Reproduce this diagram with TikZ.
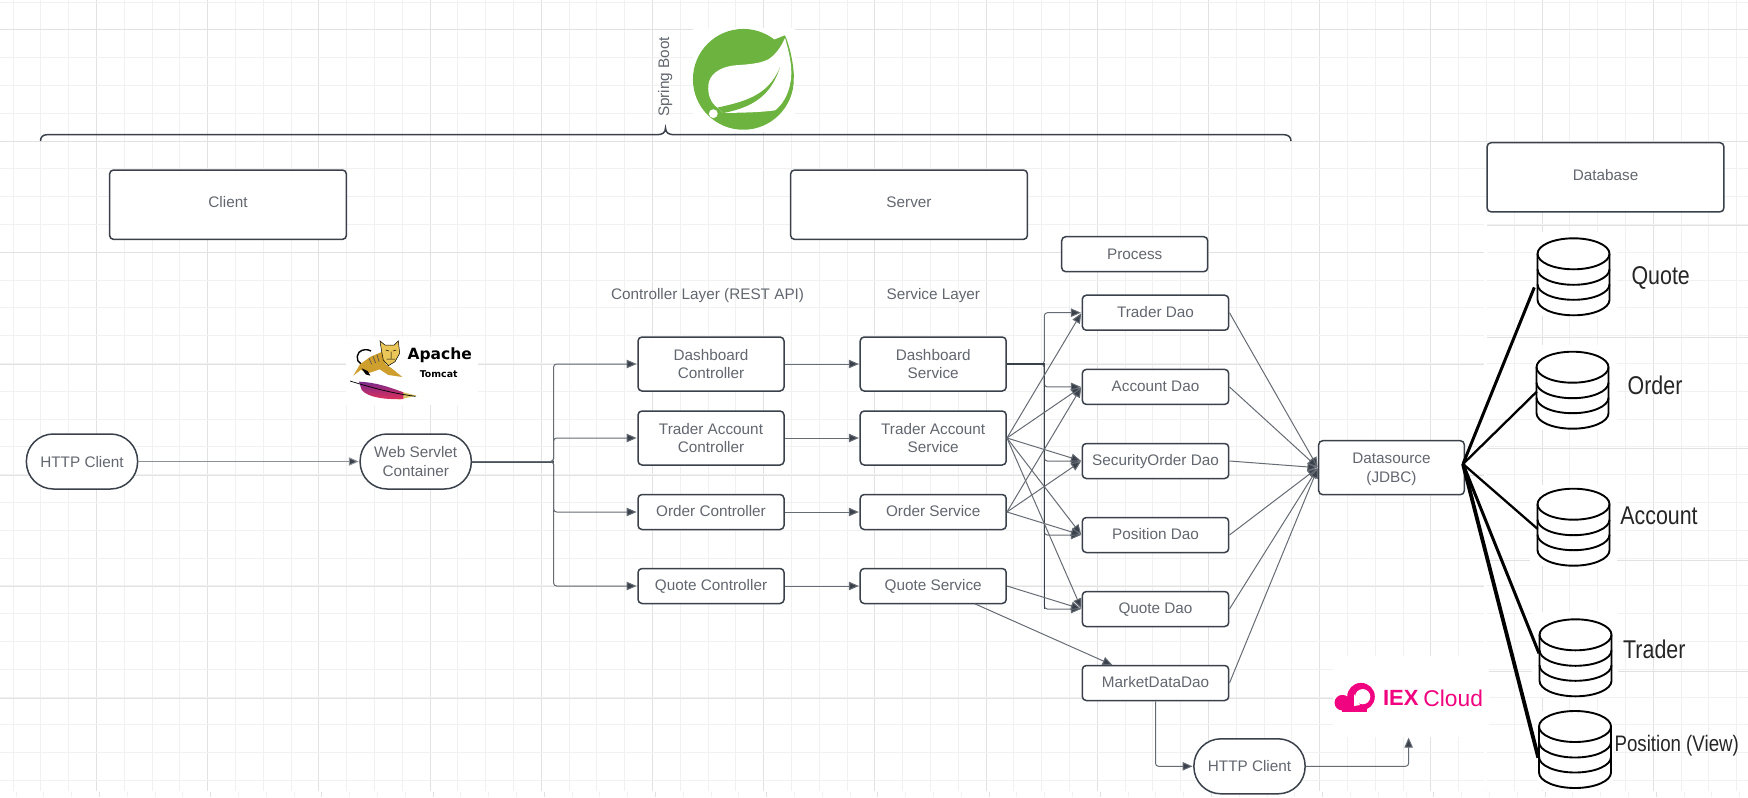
\documentclass[tikz,border=0pt]{standalone}
\usepackage{fontspec}
\usepackage{graphicx}
\setmainfont{Liberation Sans}
\newfontfamily\logofont{DejaVu Sans}
\usetikzlibrary{arrows.meta,calc}
\definecolor{ink}{HTML}{3A414A}
\definecolor{wire}{HTML}{666C74}
\definecolor{txt}{HTML}{62676F}
\definecolor{gridminor}{HTML}{F1F1F1}
\definecolor{gridmajor}{HTML}{E2E2E2}
\definecolor{springgreen}{HTML}{6DB33F}
\definecolor{iexpink}{HTML}{F0047F}
\definecolor{catgold}{HTML}{CF9F2D}
\definecolor{catface}{HTML}{EBC75A}
\definecolor{featherp}{HTML}{7A2A8C}
\definecolor{featherm}{HTML}{D0186E}
\definecolor{featherr}{HTML}{E0305A}
\definecolor{feathery}{HTML}{D9C565}
\tikzset{
  base/.style={draw=ink,line width=.75pt,fill=white,align=center,text=txt,inner sep=0pt,text depth=0pt,
    font=\fontsize{7.65}{9.25}\selectfont},
  boxn/.style 2 args={base,rounded corners=2pt,minimum width=#1pt,minimum height=#2pt},
  small/.style={boxn={73}{17.5},text height=4.8pt},
  tall/.style={boxn={73}{27}},
  dao/.style={boxn={73.2}{17.5},text height=4.8pt},
  head/.style={boxn={118.4}{34.7},text height=3pt},
  pill/.style={base,rounded corners=13.5pt,minimum width=55.6pt,minimum height=27.5pt},
  lab/.style={text=txt,inner sep=0pt,text height=5.5pt,text depth=0pt,font=\fontsize{7.65}{9.25}\selectfont},
  dblab/.style={text=black!85,inner sep=0pt,text height=.86*#1pt,text depth=0pt,font=\fontsize{#1}{#1}\selectfont},
  dbbox/.style={minimum width=36pt,minimum height=38.5pt,inner sep=0pt},
  wireline/.style={draw=wire,line width=.5pt,-{Triangle[length=5pt,width=4.2pt,fill=ink]},shorten >=.3pt},
  elbow/.style={wireline,rounded corners=1.5pt},
  busline/.style={draw=ink,line width=1pt},
  dblink/.style={draw=black,line width=#1},
  cyl/.style={draw=black,line width=.95pt,fill=white},
}
\newcommand{\dbcyl}[3]{%
  \node[dbbox] (#1) at (#2,#3+38.5) {};
  \begin{scope}[shift={(#2,#3)}]
    \path[cyl] (-36,15.5) -- (-36,61.5) arc[start angle=180,end angle=360,x radius=18pt,y radius=7.75pt] -- (36,15.5)
      arc[start angle=0,end angle=180,x radius=18pt,y radius=7.75pt] -- cycle;
    \draw[cyl,fill=none] (-36,15.5) arc[start angle=180,end angle=360,x radius=18pt,y radius=7.75pt];
    \draw[cyl,fill=none] (-36,31) arc[start angle=180,end angle=360,x radius=18pt,y radius=7.75pt];
    \draw[cyl,fill=none] (-36,46) arc[start angle=180,end angle=360,x radius=18pt,y radius=7.75pt];
  \end{scope}}
\begin{document}
\begin{tikzpicture}[x=.5pt,y=-.5pt]
\useasboundingbox (0,0) rectangle (1748,797);
\fill[white] (0,0) rectangle (1748,797);
% grid
\foreach \k in {0,...,62}{
  \pgfmathsetmacro{\gx}{floor(13.1+27.8*\k)+.5}
  \draw[gridminor,line width=.55pt] (\gx,0) -- (\gx,790.7);
  \draw[gridminor,line width=.55pt] (\gx+3,792) -- (\gx+3,797);
}
\foreach \k in {0,...,15}{
  \pgfmathsetmacro{\gx}{floor(96.5+111.2*\k)+.5}
  \draw[gridmajor,line width=.55pt] (\gx,0) -- (\gx,790.7);
  \draw[gridmajor,line width=.55pt] (\gx+3,792) -- (\gx+3,797);
}
\foreach \k in {0,...,28}{
  \pgfmathsetmacro{\gy}{floor(2+27.8*\k)+.5}
  \draw[gridminor,line width=.55pt] (0,\gy) -- (1748,\gy);
}
\foreach \gy in {29.5,141.5}{\draw[gridmajor,line width=.55pt] (0,\gy) -- (1748,\gy);}
\foreach \gy in {252.5,364.5,475.5,586.5,698.5}{\draw[gridmajor,line width=.55pt] (0,\gy) -- (1484,\gy);}
\foreach \gy in {225.5,337.5,448.5,560.5,671.5}{\draw[gridmajor,line width=.55pt] (1487,\gy) -- (1748,\gy);}
% white patches of the pasted pictures
\fill[white] (1484,215) rectangle (1487,790);
\fill[white] (1533,232) rectangle (1617,316);
\fill[white] (1533,345) rectangle (1617,430);
\fill[white] (1530,485) rectangle (1617,566);
\fill[white] (1532,612) rectangle (1618,697);
\fill[white] (1537,711) rectangle (1613,790);
\fill[white] (693,28) rectangle (795,132);
\fill[white] (346,337) rectangle (478,405);
\fill[white] (1332.5,656) rectangle (1488.6,736.7);
% Spring logo
\begin{scope}[shift={(685,22)},x=.16667pt,y=-.16667pt]
  \fill[springgreen] (175,172) circle[radius=25.2pt];
  \fill[springgreen] (300,40) -- (250,60) -- (300,130) -- (327,170) .. controls (325,120) and (315,75) .. (300,40) -- cycle;
  \fill[white] (300,48) .. controls (312,90) and (322,130) .. (318,170) .. controls (312,220) and (290,250) .. (270,265)
     .. controls (220,272) and (160,272) .. (115,273) -- (97,257)
     .. controls (75,240) and (68,215) .. (70,190) .. controls (72,160) and (100,135) .. (150,130)
     .. controls (190,127) and (225,125) .. (250,112) .. controls (272,98) and (288,75) .. (300,48) -- cycle;
  \fill[springgreen] (97,257) .. controls (170,240) and (250,225) .. (285,135)
     .. controls (260,215) and (210,255) .. (115,273) -- cycle;
  \fill[white] (85,275) circle[radius=2.2pt];
\end{scope}
% Tomcat logo
\begin{scope}[shift={(345,335)},x=.16667pt,y=-.16667pt]
  \draw[black,line width=.7pt] (62,85) .. controls (38,95) and (30,65) .. (42,52) .. controls (52,42) and (68,42) .. (78,48);
  \fill[catgold] (25,122) -- (45,88) -- (75,66) -- (112,50) -- (122,88) -- (140,100) -- (172,126) -- (130,120) -- (104,103) -- (66,116) -- (48,104) -- cycle;
  \fill[black] (50,100) -- (68,108) -- (76,122) -- (62,118) -- cycle;
  \draw[black!70,line width=.3pt] (72,70) -- (80,88) (84,64) -- (92,84) (96,58) -- (102,80);
  \fill[catface] (105,18) -- (120,30) -- (148,30) -- (160,18) -- (164,55) -- (150,80) -- (130,92) -- (115,75) -- (110,50) -- cycle;
  \draw[black,line width=.25pt] (105,18) -- (120,30) -- (148,30) -- (160,18) -- (164,55) -- (150,80) -- (130,92) -- (115,75) -- (110,50) -- cycle;
  \draw[black,line width=.25pt] (122,45) -- (132,48) (144,48) -- (154,45) (138,50) -- (138,70) (125,72) -- (150,72);
  \fill[feathery] (160,168) -- (215,182) -- (160,194) -- cycle;
  \shade[top color=featherp,middle color=featherm,bottom color=featherr]
    (42,140) .. controls (90,142) and (130,155) .. (175,172) -- (175,192) .. controls (120,194) and (70,188) .. (50,165) -- cycle;
  \draw[black,line width=.35pt] (15,138) .. controls (70,155) and (140,175) .. (212,184);
  \node[inner sep=0pt,text=black,font=\logofont\bfseries\fontsize{7.75}{8}\selectfont] (apache) at (284,60) {Apache};
  \node[inner sep=0pt,text=black,font=\logofont\bfseries\fontsize{4.7}{5}\selectfont] (tomcat) at (281,117) {Tomcat};
\end{scope}
% IEX logo
\begin{scope}[shift={(1330,670)},x=.16667pt,y=-.16667pt]
  \fill[iexpink] (93,80) circle[radius=6.9pt];
  \fill[iexpink] (37,98) circle[radius=3.9pt];
  \fill[iexpink] (37,102) rectangle (110,125);
  \fill[white] (98,80) circle[radius=3.8pt];
  \fill[white] (72,72) -- (90,105) -- (72,108) -- cycle;
  \node[inner sep=0pt,text=iexpink,font=\bfseries\fontsize{11}{11}\selectfont,anchor=west] (iex) at (158,85) {IEX};
  \node[inner sep=0pt,text=iexpink,font=\fontsize{11.4}{11}\selectfont,anchor=west] (cloud) at (279,85) {Cloud};
\end{scope}
% brace
\draw[draw=ink,line width=.75pt] (40.5,141) .. controls (40.5,137) and (43,134.7) .. (47,134.7) -- (657,134.7)
  .. controls (662,134.7) and (665.5,133) .. (665.5,128) .. controls (665.5,133) and (669,134.7) .. (674,134.7)
  -- (1284,134.7) .. controls (1288,134.7) and (1291,137) .. (1291,141);
\node[lab,rotate=90] (springboot) at (663.6,77) {Spring Boot};
% nodes
\node[head] (client) at (228,204.7) {Client};
\node[head] (server) at (909,204.7) {Server};
\node[head,minimum height=34.6pt] (database) at (1605.5,177.3) {Database};
\node[boxn={73}{17.5},text height=4.8pt] (process) at (1134.7,254.2) {Process};
\node[lab] (ctrlab) at (707.6,293.5) {Controller Layer (REST API)};
\node[lab] (svclab) at (933.3,293.5) {Service Layer};
\node[pill] (http) at (82,461.5) {HTTP Client};
\node[pill] (web) at (415.7,461.5) {Web Servlet\\Container};
\node[tall] (cd) at (711,364) {Dashboard\\Controller};
\node[tall] (ct) at (711,438) {Trader Account\\Controller};
\node[small] (co) at (711,512) {Order Controller};
\node[small] (cq) at (711,586) {Quote Controller};
\node[tall] (sd) at (933.2,364) {Dashboard\\Service};
\node[tall] (st) at (933.2,438) {Trader Account\\Service};
\node[small] (so) at (933.2,512) {Order Service};
\node[small] (sq) at (933.2,586) {Quote Service};
\node[dao] (dt) at (1155.5,312.7) {Trader Dao};
\node[dao] (da) at (1155.5,386.9) {Account Dao};
\node[dao] (ds) at (1155.5,461) {SecurityOrder Dao};
\node[dao] (dp) at (1155.5,535) {Position Dao};
\node[dao] (dq) at (1155.5,609) {Quote Dao};
\node[dao] (dm) at (1155.5,683) {MarketDataDao};
\node[boxn={72.8}{27}] (jdbc) at (1391.5,467.7) {Datasource\\(JDBC)};
\node[pill] (http2) at (1249.5,766.3) {HTTP Client};
\coordinate (iexin) at (1408.6,737);
\coordinate (busa) at (553.6,461.5);
\coordinate (busb) at (1044.3,364);
\coordinate (sqbot) at (974.6,603.7);
\coordinate (dmtop) at (1113,665.3);
\coordinate (dsout) at (1463,464);
% connectors
\draw[wireline,draw=wire!75] (http.east) -- (web.west);
\draw[busline] (web.east) -- (busa);
\foreach \c in {cd,ct,co,cq}{\draw[elbow] (web.east) -- (busa) |- (\c.west);}
\draw[wireline] (cd.east) -- (sd.west);
\draw[wireline] (ct.east) -- (st.west);
\draw[wireline] (co.east) -- (so.west);
\draw[wireline] (cq.east) -- (sq.west);
\foreach \d in {dt,da,ds,dp,dq}{\draw[elbow] (sd.east) -- (busb) |- (\d.west);}
\draw[busline,line width=.8pt] (sd.east) -- (busb) -- (busb |- dq.west);
\foreach \d in {dt,da,ds,dp,dq}{\draw[wireline] (st.east) -- (\d.west);}
\foreach \d in {da,ds,dp}{\draw[wireline] (so.east) -- (\d.west);}
\draw[wireline] (sq.east) -- (dq.west);
\draw[wireline] (sqbot) -- (dmtop);
\foreach \d in {dt,da,ds,dp,dq,dm}{\draw[wireline] (\d.east) -- (jdbc.west);}
\draw[elbow] (dm.south) |- (http2.west);
\draw[elbow] (http2.east) -| (iexin);
% databases
\dbcyl{dbq}{1573.5}{238.3}
\dbcyl{dbo}{1572.5}{351.7}
\dbcyl{dba}{1573.5}{488.7}
\dbcyl{dbt}{1575.5}{619.3}
\dbcyl{dbp}{1575}{711}
\coordinate (eq) at (1534.3,287.4);
\coordinate (eo) at (1536.7,391.7);
\coordinate (ea) at (1537.7,529);
\coordinate (et) at (1539,653.4);
\coordinate (ep) at (1538.3,757.7);
\draw[dblink=1.5pt] (dsout) -- (eq);
\draw[dblink=1.15pt] (dsout) -- (eo);
\draw[dblink=1.15pt] (dsout) -- (ea);
\draw[dblink=1.5pt] (dsout) -- (et);
\draw[dblink=1.9pt] (dsout) -- (ep);
\node[dblab=10.7] (lq) at (1660.7,275) {\scalebox{1}[1.2]{Quote}};
\node[dblab=10.7] (lo) at (1655,385.7) {\scalebox{1}[1.2]{Order}};
\node[dblab=10.7] (la) at (1659,515.7) {\scalebox{1}[1.2]{Account}};
\node[dblab=10.7] (lt) at (1654.3,649) {\scalebox{1}[1.2]{Trader}};
\node[dblab=9.35] (lp) at (1676.7,743.3) {\scalebox{1}[1.2]{Position (View)}};
\end{tikzpicture}
\end{document}
